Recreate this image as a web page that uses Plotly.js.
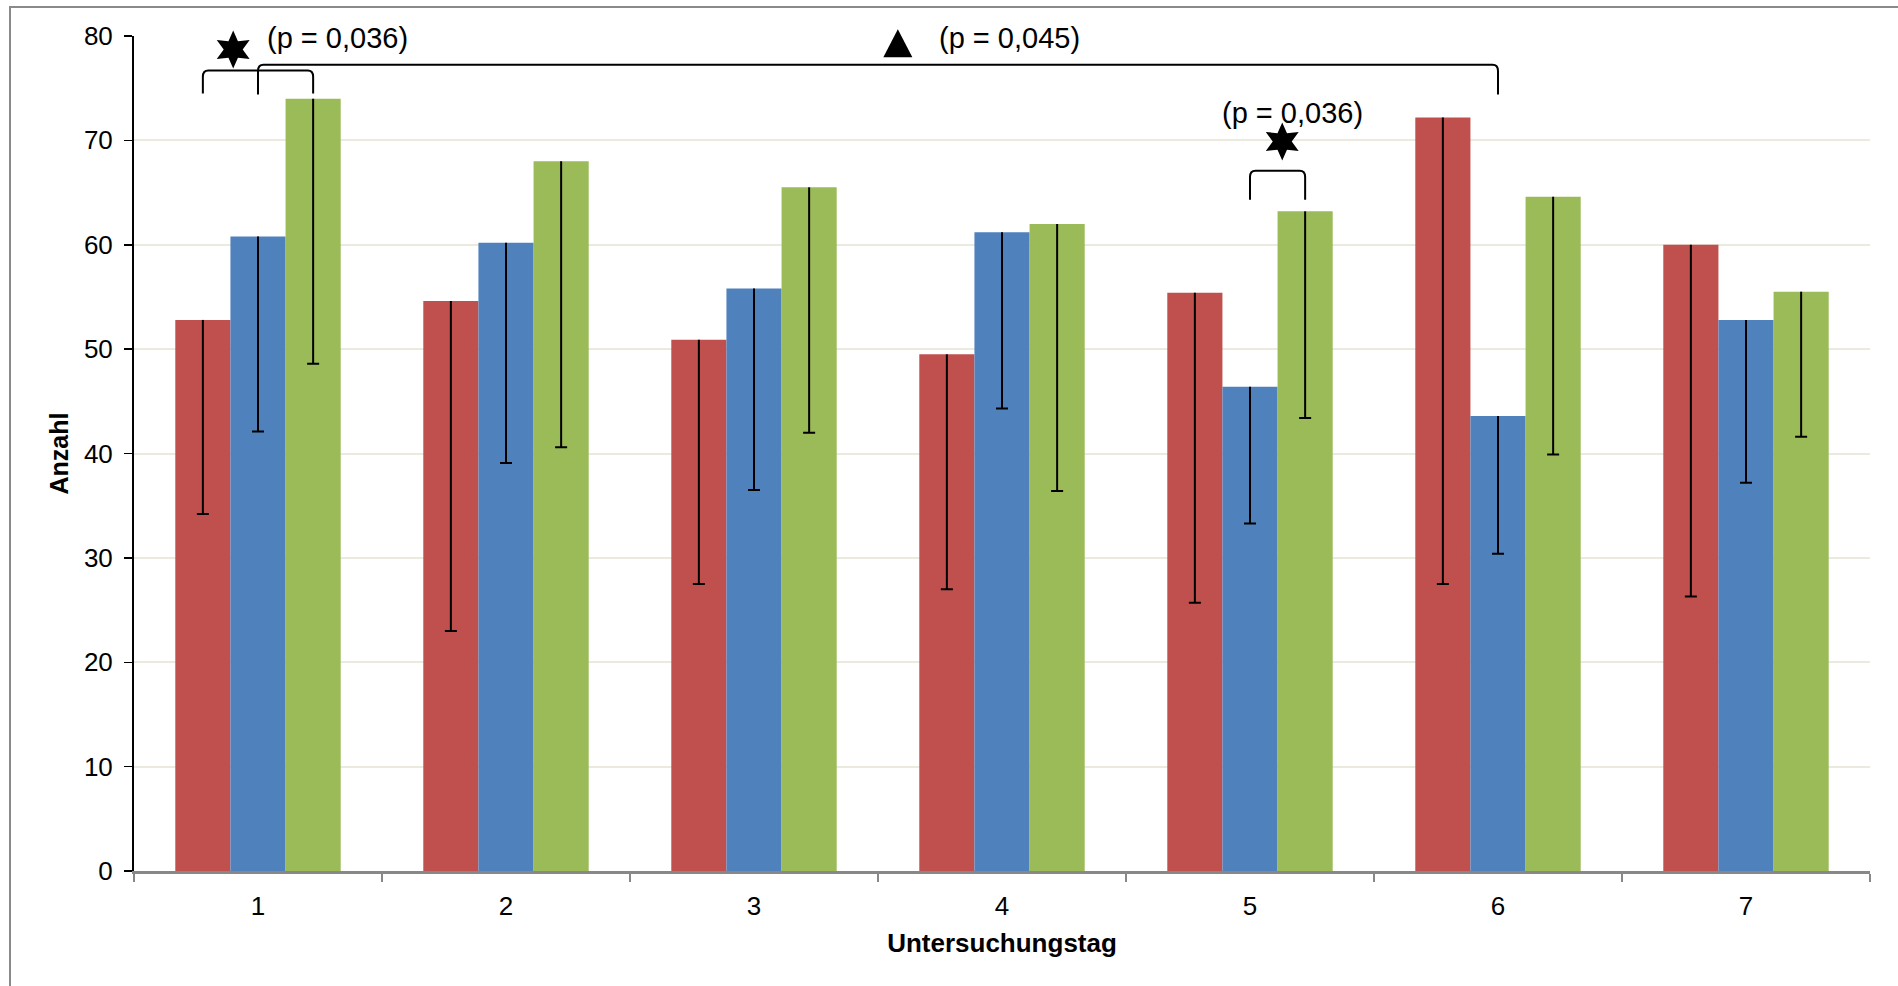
<!DOCTYPE html>
<html>
<head>
<meta charset="utf-8">
<script src="https://cdn.plot.ly/plotly-3.0.1.min.js"></script>
<style>
  html, body { margin: 0; padding: 0; background: #fff; }
  #wrap { position: relative; width: 1898px; height: 986px; overflow: hidden; }
  #chart { position: absolute; left: 0; top: 0; width: 1898px; height: 986px; }
  #frame { position: absolute; left: 9px; top: 6px; right: -10px; bottom: -10px;
           border-left: 2px solid #8a8a8a; border-top: 2px solid #8a8a8a; pointer-events: none; }
</style>
</head>
<body>
<div id="wrap">
  <div id="chart"></div>
  <div id="frame"></div>
</div>
<script>
// ---- data ----
const days = [1, 2, 3, 4, 5, 6, 7];
const dayLabels = ['1', '2', '3', '4', '5', '6', '7'];

const redValues   = [52.8, 54.6, 50.9, 49.5, 55.4, 72.2, 60.0];
const redErrMinus = [18.6, 31.6, 23.4, 22.5, 29.7, 44.7, 33.7];

const blueValues   = [60.8, 60.2, 55.8, 61.2, 46.4, 43.6, 52.8];
const blueErrMinus = [18.7, 21.1, 19.3, 16.9, 13.1, 13.2, 15.6];

const greenValues   = [74.0, 68.0, 65.5, 62.0, 63.2, 64.6, 55.5];
const greenErrMinus = [25.4, 27.4, 23.5, 25.6, 19.8, 24.7, 13.9];

const yTicks = [0, 10, 20, 30, 40, 50, 60, 70, 80];

// ---- styling ----
const FONT = 'Liberation Sans, Arial, Helvetica, sans-serif';
const colors = ['#C0504D', '#4F81BD', '#9BBB59'];
const BARGAP = 0.333;
const barW = (1 - BARGAP) / 3;
const X_RANGE = [0.5, 7.5];
const Y_RANGE = [0, 80];

const series = [
  {name: 'Gruppe 1', y: redValues, e: redErrMinus, g: 'a', c: colors[0]},
  {name: 'Gruppe 2', y: blueValues, e: blueErrMinus, g: 'b', c: colors[1]},
  {name: 'Gruppe 3', y: greenValues, e: greenErrMinus, g: 'c', c: colors[2]}
];

const traces = [];
series.forEach(s => {
  traces.push({
    type: 'bar', name: s.name, x: days, y: s.y, offsetgroup: s.g,
    marker: {color: s.c, line: {width: 0}},
    error_y: {type: 'data', symmetric: false, array: s.y.map(() => 0), arrayminus: s.e,
              width: 0, thickness: 2, color: '#000'},
    hoverinfo: 'x+y'
  });
});
// caps at the lower end of each error bar
series.forEach(s => {
  traces.push({
    type: 'bar', name: s.name + ' cap', x: days, y: s.y.map((v, i) => v - s.e[i]), offsetgroup: s.g,
    marker: {color: 'rgba(0,0,0,0)', line: {width: 0}},
    error_y: {type: 'data', symmetric: true, array: s.y.map(() => 0), width: 6, thickness: 2, color: '#000'},
    hoverinfo: 'skip', showlegend: false
  });
});
// invisible trace for the tick labels axis
traces.push({type: 'scatter', x: days, y: days.map(() => null), xaxis: 'x2', yaxis: 'y',
             mode: 'markers', hoverinfo: 'skip', showlegend: false});

// ---- significance decorations ----
function bracket(x0, x1, yTop, yBot) {
  const rx = 0.022, ry = 0.6;
  return {
    type: 'path', xref: 'x', yref: 'y', line: {color: '#000', width: 2},
    path: `M ${x0},${yBot} L ${x0},${yTop - ry} Q ${x0},${yTop} ${x0 + rx},${yTop} ` +
          `L ${x1 - rx},${yTop} Q ${x1},${yTop} ${x1},${yTop - ry} L ${x1},${yBot}`
  };
}
function starPath(R, r, n) {
  let p = '';
  for (let k = 0; k < 2 * n; k++) {
    const rad = (k % 2 === 0) ? R : r;
    const a = Math.PI / 2 + k * Math.PI / n;
    const px = (rad * Math.cos(a)).toFixed(2), py = (rad * Math.sin(a)).toFixed(2);
    p += (k === 0 ? 'M ' : ' L ') + px + ',' + py;
  }
  return p + ' Z';
}
// symbol anchored at a data position, but referenced to paper so it is not clipped
const toPaperX = x => (x - X_RANGE[0]) / (X_RANGE[1] - X_RANGE[0]);
const toPaperY = y => (y - Y_RANGE[0]) / (Y_RANGE[1] - Y_RANGE[0]);
function pixelShape(xa, ya, path) {
  return {type: 'path', xref: 'paper', yref: 'paper', xsizemode: 'pixel', ysizemode: 'pixel',
          xanchor: toPaperX(xa), yanchor: toPaperY(ya), path: path, layer: 'above',
          fillcolor: '#000', line: {color: '#000', width: 0}};
}

const redX = d => d - barW, blueX = d => d, greenX = d => d + barW;

const shapes = [
  bracket(redX(1), greenX(1), 76.7, 74.5),
  bracket(blueX(1), blueX(6), 77.25, 74.4),
  bracket(blueX(5), greenX(5), 67.1, 64.3),
  pixelShape(0.9, 78.7, starPath(19, 9.5, 6)),
  pixelShape(5.13, 69.9, starPath(19, 9.5, 6)),
  pixelShape(3.58, 79.3, 'M -14.5,-14 L 14.5,-14 L 0,14 Z')
];

const annFont = {family: FONT, size: 29, color: '#000'};
const annotations = [
  {x: 1.32, y: 79.85, text: '(p = 0,036)'},
  {x: 4.03, y: 79.85, text: '(p = 0,045)'},
  {x: 5.17, y: 72.65, text: '(p = 0,036)'}
].map(a => Object.assign(a, {xref: 'x', yref: 'y', showarrow: false, xanchor: 'center',
                             yanchor: 'middle', font: annFont}));

const layout = {
  width: 1898, height: 986,
  margin: {l: 134, r: 28, t: 36, b: 115, pad: 0},
  paper_bgcolor: '#fff', plot_bgcolor: '#fff',
  barmode: 'group', bargap: BARGAP, bargroupgap: 0,
  showlegend: false,
  font: {family: FONT, size: 26, color: '#000'},
  xaxis: {
    range: X_RANGE, tickmode: 'array',
    tickvals: days.map(d => d - 0.5).concat([days[days.length - 1] + 0.5]),
    showticklabels: false, ticks: 'outside', ticklen: 8, tickwidth: 1.5, tickcolor: '#888',
    showline: true, linecolor: '#888', linewidth: 2.5, showgrid: false, zeroline: false,
    title: {text: '<b>Untersuchungstag</b>', font: {family: FONT, size: 26, color: '#000'}, standoff: 54}
  },
  xaxis2: {
    overlaying: 'x', matches: 'x', anchor: 'y', side: 'bottom',
    tickmode: 'array', tickvals: days, ticktext: dayLabels,
    ticks: 'outside', ticklen: 12, tickcolor: 'rgba(0,0,0,0)',
    showline: false, showgrid: false, zeroline: false,
    tickfont: {family: FONT, size: 26, color: '#000'}
  },
  yaxis: {
    range: Y_RANGE, tickmode: 'array', tickvals: yTicks,
    ticks: 'outside', ticklen: 8, tickwidth: 1.5, tickcolor: '#000',
    showline: true, linecolor: '#000', linewidth: 2,
    showgrid: true, gridcolor: '#ece9de', gridwidth: 2, zeroline: false,
    tickfont: {family: FONT, size: 26, color: '#000'}, ticklabelstandoff: 6,
    title: {text: '<b>Anzahl</b>', font: {family: FONT, size: 25, color: '#000'}, standoff: 8}
  },
  shapes: shapes,
  annotations: annotations
};

Plotly.newPlot('chart', traces, layout, {displayModeBar: false, staticPlot: true});
</script>
</body>
</html>
